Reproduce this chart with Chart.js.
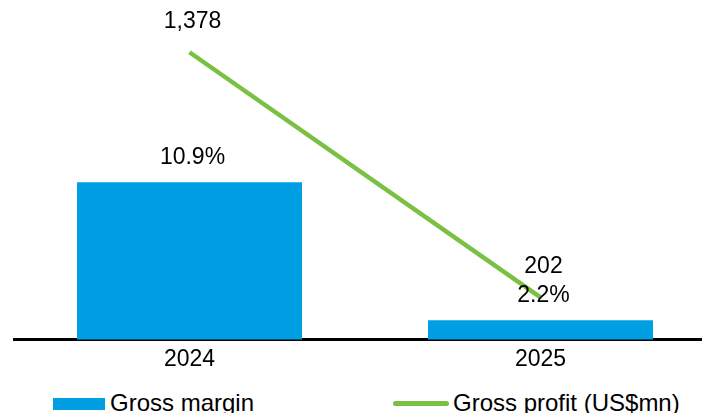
<!DOCTYPE html>
<html>
<head>
<meta charset="utf-8">
<script src="https://cdn.jsdelivr.net/npm/chart.js@4/dist/chart.umd.min.js"></script>
<style>
    html, body { margin: 0; padding: 0; background: #fff; overflow: hidden; }
    body { width: 702px; height: 413px; position: relative; font-family: "Liberation Sans", Arial, sans-serif; }
    #wrap { position: absolute; left: 0; top: 0; width: 716px; height: 379px; }
    .leg { position: absolute; top: 391px; font-size: 24px; line-height: 23px; color: #000; white-space: nowrap; }
    .swatch { position: absolute; }
</style>
</head>
<body>
<div id="wrap"><canvas id="chart"></canvas></div>
<div class="swatch" style="left:53px; top:398px; width:52px; height:12px; background:#009FE3;"></div>
<div class="leg" style="left:110px;">Gross margin</div>
<div class="swatch" style="left:393px; top:401px; width:56px; height:5px; background:#7AC143; border-radius:2.5px;"></div>
<div class="leg" style="left:453px;">Gross profit (US$mn)</div>
<script>
const years = ["2024", "2025"];
const grossMargin = [10.9, 2.2];
const grossProfit = [1378, 202];
const marginLabels = ["10.9%", "2.2%"];
const profitLabels = ["1,378", "202"];

const BLUE = "#009FE3";
const GREEN = "#7AC143";
const FONT = "'Liberation Sans', Arial, sans-serif";

// value labels above the bars and the line points
const valueLabels = {
    id: "valueLabels",
    afterDatasetsDraw(chart) {
        const ctx = chart.ctx;
        ctx.save();
        ctx.font = "23px " + FONT;
        ctx.fillStyle = "#000";
        ctx.textAlign = "center";
        ctx.textBaseline = "middle";
        chart.getDatasetMeta(1).data.forEach((bar, i) => {
            ctx.fillText(marginLabels[i], bar.x + 3, bar.y - 25);
        });
        chart.getDatasetMeta(0).data.forEach((pt, i) => {
            ctx.fillText(profitLabels[i], pt.x + 3, pt.y - 31);
        });
        ctx.restore();
    }
};

new Chart(document.getElementById("chart"), {
    data: {
        labels: years,
        datasets: [
            {
                type: "line",
                label: "Gross profit (US$mn)",
                data: grossProfit,
                yAxisID: "y1",
                borderColor: GREEN,
                borderWidth: 4.5,
                pointRadius: 0,
                tension: 0,
                order: 0
            },
            {
                type: "bar",
                label: "Gross margin",
                data: grossMargin,
                yAxisID: "y",
                backgroundColor: BLUE,
                borderWidth: 0,
                categoryPercentage: 1,
                barPercentage: 0.641,
                order: 1
            }
        ]
    },
    options: {
        responsive: true,
        maintainAspectRatio: false,
        animation: false,
        layout: { padding: { left: 14, right: 0, top: 6, bottom: 0 } },
        scales: {
            x: {
                grid: { display: false, drawTicks: false },
                border: { display: true, color: "#000", width: 3 },
                ticks: { color: "#000", padding: 6, font: { family: FONT, size: 23 } }
            },
            y: { display: false, min: 1, max: 22 },
            y1: { display: false, min: 0, max: 1600 }
        },
        plugins: {
            legend: { display: false },
            tooltip: { enabled: false }
        }
    },
    plugins: [valueLabels]
});
</script>
</body>
</html>
